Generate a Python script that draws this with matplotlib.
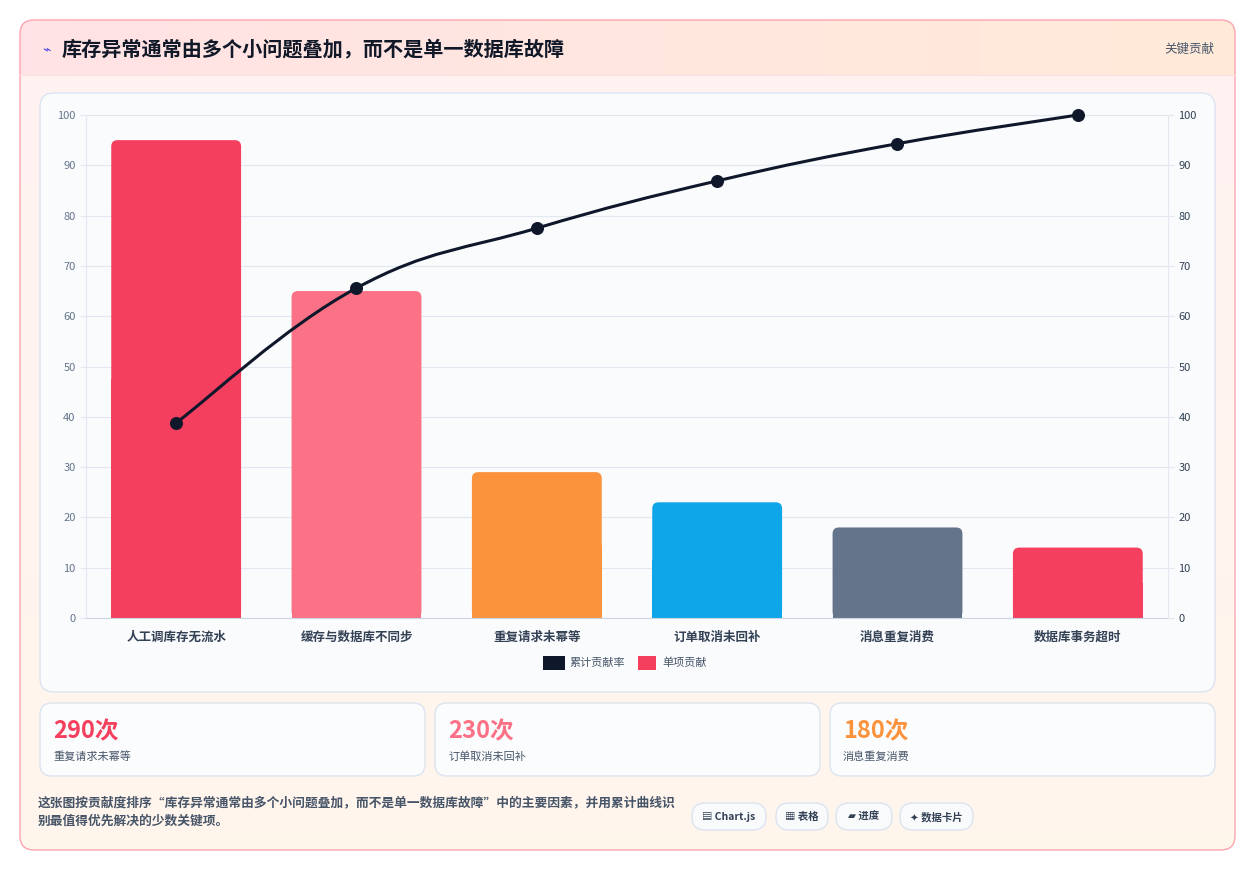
import matplotlib
matplotlib.use("Agg")
import matplotlib.pyplot as plt
import numpy as np
from matplotlib.patches import FancyBboxPatch, Rectangle
from matplotlib.path import Path
from matplotlib.patches import PathPatch

plt.rcParams['font.family'] = ['Noto Sans CJK SC', 'DejaVu Sans']

title = "库存异常通常由多个小问题叠加，而不是单一数据库故障"
categories = ["人工调库存无流水", "缓存与数据库不同步", "重复请求未幂等", "订单取消未回补", "消息重复消费", "数据库事务超时"]
single = [95, 65, 29, 23, 18, 14]
cumulative = [38.8, 65.6, 77.5, 86.9, 94.3, 100]
bar_colors = ["#f43f5e", "#fb7185", "#fb923c", "#0ea5e9", "#64748b", "#f43f5e"]
kpi_values = ["290次", "230次", "180次"]
kpi_labels = ["重复请求未幂等", "订单取消未回补", "消息重复消费"]
kpi_colors = ["#f43f5e", "#fb7185", "#fb923c"]
buttons = ["▤ Chart.js", "▦ 表格", "▰ 进度", "✦ 数据卡片"]
footer = "这张图按贡献度排序“库存异常通常由多个小问题叠加，而不是单一数据库故障”中的主要因素，并用累计曲线识\n别最值得优先解决的少数关键项。"

W, H = 1255, 871
fig = plt.figure(figsize=(W/100, H/100), dpi=100)
bg = fig.add_axes([0, 0, 1, 1])
bg.set_xlim(0, W); bg.set_ylim(H, 0); bg.axis('off')

def rbox(x, y, w, h, r, fc, ec, lw=1, z=1):
    p = FancyBboxPatch((x, y), w, h, boxstyle=f"round,pad=0,rounding_size={r}",
                       fc=fc, ec=ec, lw=lw, zorder=z)
    bg.add_patch(p)
    return p

card = rbox(20, 20, 1215, 830, 14, "none", "#fda4af", 1, 2)
grad = np.linspace(0, 1, 100)[:, None]
c1 = np.array([1.0, 0.95, 0.95]); c2 = np.array([1.0, 0.965, 0.925])
img = c1[None, None, :] * (1 - grad[..., None]) + c2[None, None, :] * grad[..., None]
im = bg.imshow(img, extent=[20, 1235, 850, 20], aspect='auto', zorder=1)
im.set_clip_path(FancyBboxPatch((20, 20), 1215, 830, boxstyle="round,pad=0,rounding_size=14", transform=bg.transData))
hx = np.linspace(0, 1, 200)[None, :]
h1 = np.array([1.0, 0.89, 0.90]); h2 = np.array([1.0, 0.92, 0.85])
himg = h1[None, None, :] * (1 - hx[..., None]) + h2[None, None, :] * hx[..., None]
him = bg.imshow(himg, extent=[20, 1235, 75, 20], aspect='auto', zorder=1.5)
him.set_clip_path(FancyBboxPatch((20, 20), 1215, 830, boxstyle="round,pad=0,rounding_size=14", transform=bg.transData))
bg.plot([20, 1235], [75, 75], color="#fde2e4", lw=1, zorder=2)
bg.text(42, 49, "⌁", color="#4f46e5", fontsize=10, va='center', zorder=3)
bg.text(62, 49, title, fontsize=14.5, fontweight='bold', color="#111827", va='center', zorder=3)
bg.text(1214, 49, "关键贡献", fontsize=9, color="#475569", va='center', ha='right', zorder=3)

rbox(40, 93, 1175, 599, 14, "#fafbfd", "#dbe4f0", 1, 2)

for i, (v, l, c) in enumerate(zip(kpi_values, kpi_labels, kpi_colors)):
    x = 40 + i * 395
    rbox(x, 703, 385, 73, 12, "#fbfcfe", "#dbe4f0", 1, 2)
    bg.text(x + 13, 731, v, fontsize=17, fontweight='bold', color=c, va='center', zorder=3)
    bg.text(x + 13, 757, l, fontsize=8, color="#475569", va='center', zorder=3)

bg.text(38, 812, footer, fontsize=9.2, color="#475569", va='center', zorder=3, linespacing=1.6, fontweight='bold')
bx = [692, 776, 836, 900]
bw = [74, 52, 56, 73]
for x, w, t in zip(bx, bw, buttons):
    rbox(x, 803, w, 27, 13, "#f8fafc", "#dbe4f0", 1, 2)
    bg.text(x + w/2, 817, t, fontsize=7.5, fontweight='bold', color="#334155", ha='center', va='center', zorder=3,
            family=['Noto Sans CJK SC', 'DejaVu Sans'])

ax = fig.add_axes([86/W, 1 - 618/H, (1168-86)/W, (618-115)/H])
ax.set_facecolor("none")
x = np.arange(len(categories))
ax.set_xlim(-0.5, len(categories) - 0.5)
ax.set_ylim(0, 100)
bw_data = 0.72
asp = (100/503) / (6/1082)
for xi, v, c in zip(x, single, bar_colors):
    ax.add_patch(FancyBboxPatch((xi - bw_data/2, 0), bw_data, v,
                 boxstyle="round,pad=0,rounding_size=0.035", mutation_aspect=asp, fc=c, ec='none', zorder=2))
    ax.add_patch(Rectangle((xi - bw_data/2, 0), bw_data, v/2, fc=c, ec='none', zorder=2))
ax.set_yticks(range(0, 101, 10))
ax.tick_params(axis='y', labelsize=8, colors="#64748b", length=4)
ax.tick_params(axis='y', color="#e2e8f0")
ax.set_xticks(x)
ax.set_xticklabels(categories, fontsize=9, color="#334155", fontweight='bold')
ax.tick_params(axis='x', length=0, pad=9)
ax.grid(axis='y', color="#e2e8f0", lw=0.8, zorder=0)
for s in ['top', 'right']:
    ax.spines[s].set_visible(False)
ax.spines['left'].set_color("#e2e8f0"); ax.spines['bottom'].set_color("#cbd5e1")

ax2 = ax.twinx()
ax2.set_ylim(0, 100); ax2.set_xlim(ax.get_xlim())
ax2.set_yticks(range(0, 101, 10))
ax2.tick_params(axis='y', labelsize=8, colors="#334155", length=4)
ax2.tick_params(axis='y', color="#e2e8f0")
for s in ['top', 'left', 'bottom']:
    ax2.spines[s].set_visible(False)
ax2.spines['right'].set_color("#e2e8f0")

px = x.astype(float); py = np.array(cumulative, dtype=float)
verts = [(px[0], py[0])]; codes = [Path.MOVETO]
t = 0.4
for i in range(len(px) - 1):
    p0 = (px[max(i-1, 0)], py[max(i-1, 0)]); p1 = (px[i], py[i])
    p2 = (px[i+1], py[i+1]); p3 = (px[min(i+2, len(px)-1)], py[min(i+2, len(px)-1)])
    c1p = (p1[0] + (p2[0]-p0[0])*t/2, p1[1] + (p2[1]-p0[1])*t/2)
    c2p = (p2[0] - (p3[0]-p1[0])*t/2, p2[1] - (p3[1]-p1[1])*t/2)
    verts += [c1p, c2p, p2]; codes += [Path.CURVE4]*3
ax2.add_patch(PathPatch(Path(verts, codes), fc='none', ec="#0f172a", lw=2.2, zorder=5, clip_on=False))
ax2.scatter(px, py, s=70, color="#0f172a", zorder=6, clip_on=False)

bg.add_patch(Rectangle((543, 656), 22, 14, fc="#0f172a", zorder=3))
bg.text(569, 663, "累计贡献率", fontsize=8, color="#475569", va='center', zorder=3)
bg.add_patch(Rectangle((638, 656), 18, 14, fc="#f43f5e", zorder=3))
bg.text(662, 663, "单项贡献", fontsize=8, color="#475569", va='center', zorder=3)

fig.savefig("out.png", dpi=100)
